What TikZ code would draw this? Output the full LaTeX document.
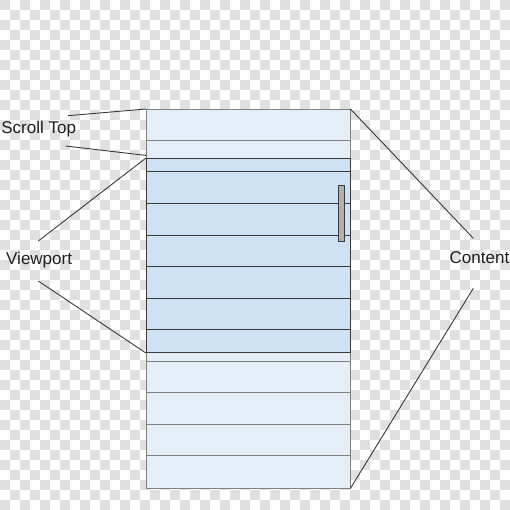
\documentclass[tikz,border=0pt]{standalone}
\usepackage{fontspec}
\setmainfont{Liberation Sans}
\definecolor{checkgray}{HTML}{E0E0E0}
\definecolor{contentfill}{HTML}{E4EEF8}
\definecolor{viewfill}{HTML}{CFE2F3}
\definecolor{rowline}{HTML}{808080}
\definecolor{darkline}{HTML}{3A3A3A}
\definecolor{barfill}{HTML}{B0B0B0}
\begin{document}
\begin{tikzpicture}[x=1pt,y=-1pt,
  lbl/.style={font=\fontsize{17}{19}\selectfont, inner sep=0pt, anchor=west, text=black!88},
  conn/.style={draw=darkline, line width=0.9pt},
  rowsep/.style={draw=rowline, line width=0.9pt},
  viewsep/.style={draw=darkline, line width=1pt}]
\useasboundingbox (0,0) rectangle (510,510);
% transparency checkerboard
\foreach \j in {0,...,50} {
  \pgfmathtruncatemacro\off{mod(\j,2)}
  \foreach \i in {0,2,...,50} {
    \fill[checkgray] ({(\i+\off)*10},{\j*10}) rectangle ++(10,10);
  }
}
% content
\node[draw=rowline, line width=0.9pt, fill=contentfill, anchor=north west, inner sep=0pt,
      minimum width=203.5pt, minimum height=378.5pt] (content) at (146,109) {};
\foreach \k in {1,...,11} {
  \draw[rowsep] (146,{109+31.5*\k}) -- (349.5,{109+31.5*\k});
}
% viewport
\node[draw=darkline, line width=1.1pt, fill=viewfill, anchor=north west, inner sep=0pt,
      minimum width=203.5pt, minimum height=194pt] (viewport) at (146,158) {};
\foreach \k in {2,...,7} {
  \draw[viewsep] (146,{109+31.5*\k}) -- (349.5,{109+31.5*\k});
}
% scrollbar
\node[draw=darkline, line width=0.8pt, fill=barfill, anchor=north west, inner sep=0pt,
      minimum width=6.6pt, minimum height=56.3pt] (scrollbar) at (337.7,184.7) {};
% labels
\node[lbl] (scrolltop) at (1.2,129.5) {Scroll Top};
\node[lbl] (viewportlbl) at (6,260) {Viewport};
\node[lbl] (contentlbl) at (449.5,258) {Content};
% connector ends
\coordinate (st1) at (68,115.7);
\coordinate (st2) at (65.7,146);
\coordinate (stend) at (146.7,155.5);
\coordinate (vp1) at (38.3,241);
\coordinate (vp2) at (38.3,281);
\coordinate (ct1) at (473.3,238.3);
\coordinate (ct2) at (473.3,288.3);
\draw[conn] (st1) -- (content.north west);
\draw[conn] (st2) -- (stend);
\draw[conn] (vp1) -- (viewport.north west);
\draw[conn] (vp2) -- (viewport.south west);
\draw[conn] (content.north east) -- (ct1);
\draw[conn] (content.south east) -- (ct2);
\end{tikzpicture}
\end{document}
